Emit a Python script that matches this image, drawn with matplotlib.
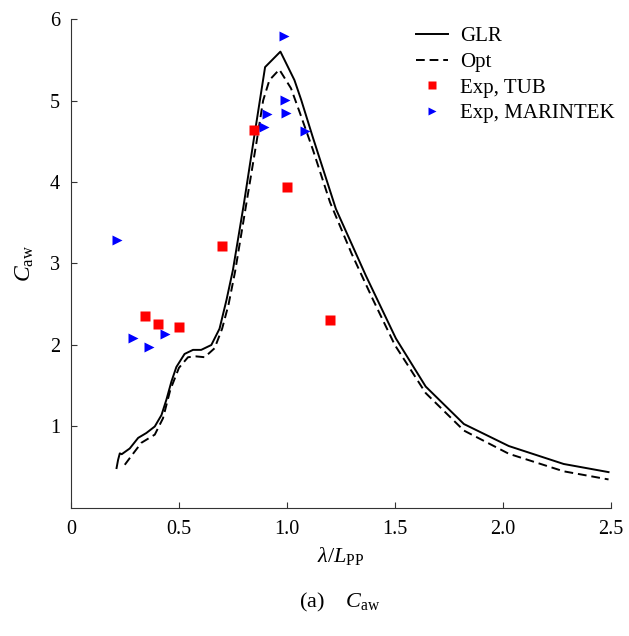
# added wave resistance coefficient C_aw against wave length ratio
import matplotlib

matplotlib.use('Agg')
import matplotlib.pyplot as plt

plt.rcParams['font.family'] = ['Liberation Serif', 'DejaVu Serif']
plt.rcParams['mathtext.fontset'] = 'custom'
plt.rcParams['mathtext.rm'] = 'Liberation Serif'
plt.rcParams['mathtext.it'] = 'Liberation Serif:italic'

# GLR calculation (solid line)
glr_x = [0.211, 0.218, 0.226, 0.235, 0.272, 0.311, 0.349, 0.388, 0.419, 0.442,
         0.465, 0.488, 0.526, 0.565, 0.603, 0.650, 0.688, 0.72, 0.75, 0.80,
         0.85, 0.899, 0.970, 1.035, 1.066, 1.12, 1.227, 1.30, 1.366, 1.505,
         1.643, 1.820, 2.028, 2.282, 2.49]
glr_y = [0.49, 0.59, 0.67, 0.66, 0.73, 0.86, 0.92, 1.00, 1.14, 1.33,
         1.55, 1.73, 1.89, 1.94, 1.94, 2.00, 2.20, 2.55, 2.92, 3.72,
         4.58, 5.41, 5.60, 5.25, 5.01, 4.55, 3.67, 3.24, 2.85, 2.08,
         1.49, 1.03, 0.76, 0.54, 0.44]

# optimized calculation (dashed line)
opt_x = [0.249, 0.28, 0.326, 0.388, 0.426, 0.46, 0.50, 0.542, 0.58, 0.619,
         0.665, 0.70, 0.73, 0.76, 0.81, 0.86, 0.89, 0.919, 0.965, 1.019,
         1.06, 1.12, 1.20, 1.30, 1.40, 1.50, 1.643, 1.82, 2.028, 2.282, 2.49]
opt_y = [0.53, 0.64, 0.80, 0.90, 1.10, 1.45, 1.72, 1.85, 1.86, 1.85,
         1.96, 2.20, 2.50, 2.90, 3.70, 4.50, 5.00, 5.25, 5.38, 5.15,
         4.85, 4.40, 3.75, 3.12, 2.55, 2.00, 1.41, 0.95, 0.665, 0.45, 0.35]

# experiments
tub_x = [0.345, 0.405, 0.499, 0.699, 0.848, 0.999, 1.20]
tub_y = [2.36, 2.26, 2.22, 3.22, 4.64, 3.94, 2.31]
mar_x = [0.211, 0.285, 0.361, 0.437, 0.988, 0.993, 0.996, 0.907, 0.893, 1.085]
mar_y = [3.29, 2.09, 1.98, 2.13, 5.79, 5.01, 4.85, 4.83, 4.68, 4.63]

x_ticks = [0, 0.5, 1.0, 1.5, 2.0, 2.5]
x_tick_labels = ['0', '0.5', '1.0', '1.5', '2.0', '2.5']
y_ticks = [1, 2, 3, 4, 5, 6]

fig = plt.figure(figsize=(6.29, 6.36), dpi=100)
ax = fig.add_axes([0.1129, 0.2013, 0.8580, 0.7688])

ax.plot(glr_x, glr_y, color='black', lw=1.4, label='GLR')
ax.plot(opt_x, opt_y, color='black', lw=1.4, ls=(0, (4.5, 2.5)), label='Opt')
ax.plot(tub_x, tub_y, 's', color='#ff0000', ms=6.5, mec='none', label='Exp, TUB')
ax.plot(mar_x, mar_y, '>', color='#0000ff', ms=7, mec='none', label='Exp, MARINTEK')

ax.set_xlim(0, 2.5)
ax.set_ylim(0, 6)
ax.set_xticks(x_ticks)
ax.set_xticklabels(x_tick_labels)
ax.set_yticks(y_ticks)
ax.spines['top'].set_visible(False)
ax.spines['right'].set_visible(False)
ax.spines['left'].set_color('#333333')
ax.spines['bottom'].set_color('#333333')
ax.tick_params(direction='in', length=4, labelsize=14.5, color='#333333')
ax.tick_params(axis='x', pad=9)
ax.tick_params(axis='y', pad=8)

ax.set_xlabel(r'$\lambda/L_{\rm PP}$', fontsize=16, labelpad=4)
ax.set_ylabel(r'$C_{\rm aw}$', fontsize=17, labelpad=10)

fig.legend(loc='upper left', bbox_to_anchor=(0.632, 0.988), frameon=False,
           fontsize=15, handlelength=1.5, handletextpad=0.6, labelspacing=0.3,
           markerscale=0.8)

fig.text(0.54, 0.045, r'(a)    $C_{\rm aw}$', ha='center', fontsize=16)

fig.savefig('out.png', dpi=100)
